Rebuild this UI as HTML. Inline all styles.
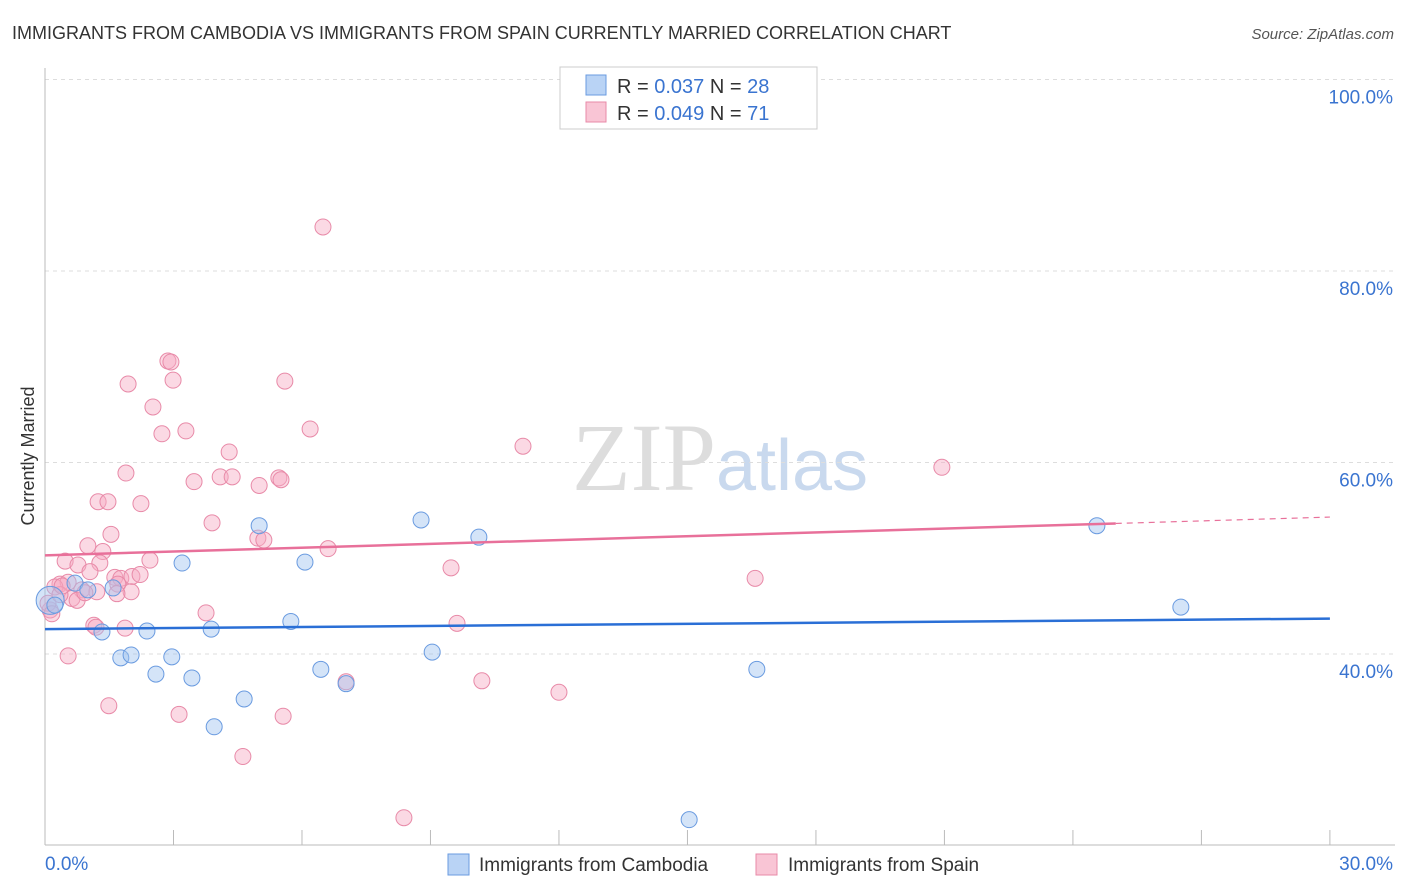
<!DOCTYPE html>
<html><head><meta charset="utf-8"><style>
body{margin:0;background:#fff;font-family:"Liberation Sans",sans-serif}
</style></head><body>
<svg id="chart" width="1406" height="892" xmlns="http://www.w3.org/2000/svg" style="display:block">
<text x="12" y="39" font-size="18" fill="#333">IMMIGRANTS FROM CAMBODIA VS IMMIGRANTS FROM SPAIN CURRENTLY MARRIED CORRELATION CHART</text>
<text x="1394" y="39" font-size="15" fill="#555" font-style="italic" text-anchor="end">Source: ZipAtlas.com</text>
<text transform="translate(34,456) rotate(-90)" font-size="18" fill="#333" text-anchor="middle">Currently Married</text>
<text x="720" y="490" font-size="96" fill="#ddd" text-anchor="middle" font-family="Liberation Serif">ZIP<tspan fill="#c9d9ee" font-family="Liberation Sans" font-size="72">atlas</tspan></text>
<g id="grid"></g><g id="marks"></g>
<g>
<rect x="560" y="67" width="257" height="62" fill="#fff" stroke="#ccc"/>
<rect x="586" y="75" width="20" height="20" fill="#b9d3f5" stroke="#6a9be0"/>
<rect x="586" y="102" width="20" height="20" fill="#f9c5d5" stroke="#e88aa8"/>
<text x="617" y="93" font-size="20" fill="#333">R = <tspan fill="#3a74d0">0.037</tspan>   N = <tspan fill="#3a74d0">28</tspan></text>
<text x="617" y="120" font-size="20" fill="#333">R = <tspan fill="#3a74d0">0.049</tspan>   N =  <tspan fill="#3a74d0">71</tspan></text>
</g>
<g>
<rect x="448" y="854" width="21" height="21" fill="#b9d3f5" stroke="#6a9be0"/>
<text x="479" y="871" font-size="19" fill="#333">Immigrants from Cambodia</text>
<rect x="756" y="854" width="21" height="21" fill="#f9c5d5" stroke="#e88aa8"/>
<text x="788" y="871" font-size="19" fill="#333">Immigrants from Spain</text>
</g>
</svg>
<script>
const camX=[0.12,0.70,1.00,1.33,1.59,1.77,2.01,2.38,2.59,2.96,3.20,3.43,3.88,3.95,4.65,5.00,5.74,6.07,6.44,7.03,8.78,9.04,10.13,15.04,16.62,24.56,26.52,0.23];
const camY=[45.6,47.4,46.7,42.3,46.9,39.6,39.9,42.4,37.9,39.7,49.5,37.5,42.6,32.4,35.3,53.4,43.4,49.6,38.4,36.9,54.0,40.2,52.2,22.7,38.4,53.4,44.9,45.1];
const spX=[6.49,2.87,2.94,2.99,1.94,5.60,2.52,2.73,3.29,6.19,4.30,11.16,20.94,1.89,3.48,4.09,4.37,5.00,5.46,5.51,1.24,1.47,2.24,3.90,1.54,4.97,5.11,1.00,1.35,6.61,0.47,2.45,0.77,1.28,9.48,1.05,1.63,1.77,2.03,2.22,16.58,0.35,0.54,0.23,1.70,0.86,0.63,1.21,2.01,1.68,0.75,0.12,0.07,3.76,9.62,1.14,1.19,1.87,0.54,1.49,3.13,5.56,7.03,10.20,12.00,4.62,8.38,0.35,0.93,0.16,0.40];
const spY=[84.6,70.6,70.5,68.6,68.2,68.5,65.8,63.0,63.3,63.5,61.1,61.7,59.5,58.9,58.0,58.5,58.5,57.6,58.4,58.2,55.9,55.9,55.7,53.7,52.5,52.1,51.9,51.3,50.7,51.0,49.7,49.8,49.3,49.5,49.0,48.6,48.0,47.9,48.1,48.3,47.9,47.3,47.5,47.0,47.3,46.7,45.8,46.5,46.5,46.3,45.6,44.6,45.3,44.3,43.2,43.0,42.8,42.7,39.8,34.6,33.7,33.5,37.1,37.2,36.0,29.3,22.9,46.2,46.4,44.2,47.1];
const yTicks=[100,80,60,40];
const xTickVals=[0,3,6,9,12,15,18,21,24,27,30];
const camTrend=[42.6,43.7];
const spTrend=[50.3,54.3];
const spSolidEnd=25;
const NS='http://www.w3.org/2000/svg';
const sx=v=>45+v*42.83, sy=v=>79.5+(100-v)*9.575;
function mk(p,t,a){const e=document.createElementNS(NS,t);for(const k in a)e.setAttribute(k,a[k]);p.appendChild(e);return e;}
const g=document.getElementById('grid'),m=document.getElementById('marks');
yTicks.forEach(v=>{
 const l=mk(g,'line',{x1:45,x2:1393,y1:sy(v),y2:sy(v),stroke:'#ddd','stroke-dasharray':'4,4'});
 
 
 const t=mk(g,'text',{x:1393,y:sy(v)+24,'font-size':19,fill:'#3a74d0','text-anchor':'end'});t.textContent=v.toFixed(1)+'%';
 
 
});
mk(g,'line',{x1:45,x2:45,y1:68,y2:845,stroke:'#bbb'});
mk(g,'line',{x1:45,x2:1395,y1:845,y2:845,stroke:'#bbb'});
xTickVals.forEach(v=>{const l=mk(g,'line',{x1:sx(v),x2:sx(v),y1:830,y2:845,stroke:'#bbb'});
 
 });
[[0,'0.0%',45,'start'],[30,'30.0%',1393,'end']].forEach(a=>{const t=mk(g,'text',{x:a[2],y:870,'font-size':19,fill:'#3a74d0','text-anchor':a[3]});t.textContent=a[1];
 
 });
spX.forEach((x,i)=>{const c=mk(m,'circle',{cx:sx(x),cy:sy(spY[i]),r:8,fill:'rgba(246,170,195,0.45)',stroke:'#e88aa8','stroke-width':1});
 
 });
camX.forEach((x,i)=>{const c=mk(m,'circle',{cx:sx(x),cy:sy(camY[i]),r:i==0?14:8,fill:'rgba(160,195,240,0.45)',stroke:'#6a9be0','stroke-width':1});
 
 });
const t1=mk(m,'line',{x1:sx(0),y1:sy(camTrend[0]),x2:sx(30),y2:sy(camTrend[1]),stroke:'#2a6fd6','stroke-width':2.5});


const spAt=x=>spTrend[0]+(spTrend[1]-spTrend[0])*x/30;
const t2=mk(m,'line',{x1:sx(0),y1:sy(spTrend[0]),x2:sx(spSolidEnd),y2:sy(spAt(spSolidEnd)),stroke:'#e8709a','stroke-width':2.5});


const t3=mk(m,'line',{x1:sx(spSolidEnd),y1:sy(spAt(spSolidEnd)),x2:sx(30),y2:sy(spTrend[1]),stroke:'#e8709a','stroke-width':1.2,'stroke-dasharray':'6,5'});


</script>
</body></html>
